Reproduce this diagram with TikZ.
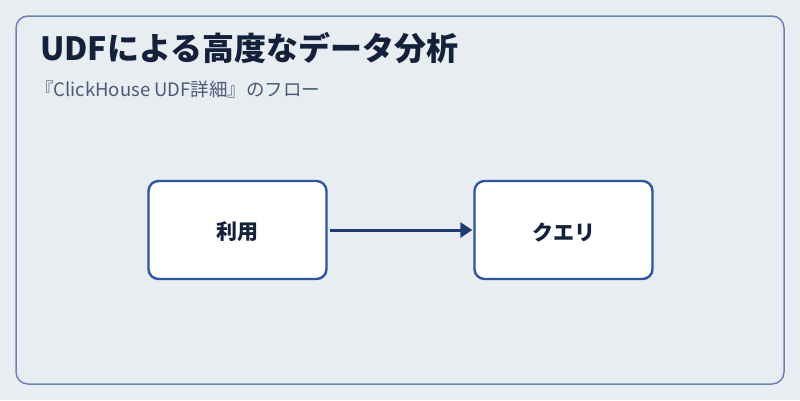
\documentclass[tikz,border=0pt]{standalone}
\usepackage{fontspec}
\setmainfont{Noto Sans CJK JP}
\usetikzlibrary{arrows.meta}
\definecolor{bgc}{HTML}{E8EDF2}
\definecolor{framec}{HTML}{6B84B0}
\definecolor{boxc}{HTML}{2F55A0}
\definecolor{arrowc}{HTML}{1E3A70}
\definecolor{titlec}{HTML}{14213A}
\definecolor{subc}{HTML}{4A5A78}
\tikzset{
  stepbox/.style={draw=boxc, line width=2.4pt, fill=white, rounded corners=10pt, minimum width=178pt, minimum height=98pt, inner sep=0pt, font=\fontsize{21}{24}\selectfont\bfseries, text=titlec},
  flow/.style={draw=arrowc, line width=3pt, -{Triangle[length=12pt,width=15pt]}}
}
\newcommand{\lowered}[1]{\raisebox{-2pt}[\height][\depth]{#1}}
\begin{document}
\begin{tikzpicture}[x=1pt,y=-1pt]
\fill[bgc] (0,0) rectangle (800,400);
\useasboundingbox (0,0) rectangle (800,400);
\draw[framec, line width=1.5pt, rounded corners=12pt, fill=bgc] (16,16) rectangle (784,384);
\node[anchor=base west, inner sep=0pt, text=titlec, font=\fontsize{32}{36}\selectfont\bfseries] (title) at (40,60) {UDFによる高度なデータ分析};
\node[anchor=base west, inner sep=0pt, text=subc, font=\fontsize{18.5}{21}\selectfont] (sub) at (35,96) {『ClickHouse UDF詳細』のフロー};
\node[stepbox] (a) at (237.5,230) {\lowered{利用}};
\node[stepbox] (b) at (563.5,230) {\lowered{クエリ}};
\draw[flow] ([xshift=2pt]a.east) -- ([xshift=-1pt]b.west);
\end{tikzpicture}
\end{document}
